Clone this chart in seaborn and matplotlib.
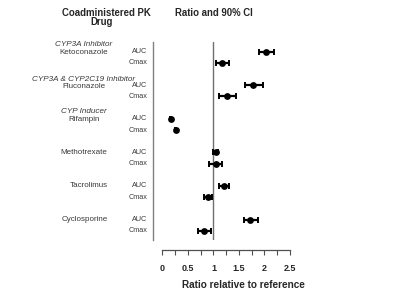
import numpy as np
import pandas as pd
import matplotlib
matplotlib.use("Agg")
import matplotlib.pyplot as plt
import matplotlib.transforms as mtransforms
from matplotlib.ticker import MultipleLocator, FixedLocator
import seaborn as sns

# ---- data ----
drugs = ['Ketoconazole', 'Fluconazole', 'Rifampin', 'Methotrexate', 'Tacrolimus', 'Cyclosporine']
categories = ['CYP3A Inhibitor', 'CYP3A & CYP2C19 Inhibitor', 'CYP Inducer', '', '', '']
params = ['AUC', 'Cmax']
auc = [2.03, 1.78, 0.16, 1.04, 1.21, 1.72]
auc_lo = [1.89, 1.62, 0.15, 1.00, 1.11, 1.60]
auc_hi = [2.18, 1.98, 0.17, 1.08, 1.31, 1.87]
cmax = [1.16, 1.27, 0.26, 1.04, 0.90, 0.82]
cmax_lo = [1.05, 1.11, 0.25, 0.92, 0.82, 0.70]
cmax_hi = [1.31, 1.45, 0.27, 1.16, 0.98, 0.96]
xticks = [0, 0.5, 1, 1.5, 2, 2.5]
xticklabels = ['0', '0.5', '1', '1.5', '2', '2.5']

rows = []
for i, d in enumerate(drugs):
    rows.append(dict(drug=d, param='AUC', ratio=auc[i], lo=auc_lo[i], hi=auc_hi[i], pos=3 * i))
    rows.append(dict(drug=d, param='Cmax', ratio=cmax[i], lo=cmax_lo[i], hi=cmax_hi[i], pos=3 * i + 1))
df = pd.DataFrame(rows)

sns.set_theme(style="white")
plt.rcParams['font.family'] = ['Liberation Sans', 'DejaVu Sans']

fig = plt.figure(figsize=(4.0, 2.95), dpi=100)
W, H = 400, 295
left_px, right_px, top_px, bot_px = 153.3, 300, 42, 240
ax = fig.add_axes([left_px / W, 1 - bot_px / H, (right_px - left_px) / W, (bot_px - top_px) / H])

ax.errorbar(df['ratio'], df['pos'],
            xerr=[df['ratio'] - df['lo'], df['hi'] - df['ratio']],
            fmt='none', ecolor='black', elinewidth=1.6, capsize=2.2, capthick=1.4, zorder=2)
sns.scatterplot(data=df, x='ratio', y='pos', ax=ax, color='black', s=24,
                edgecolor='black', linewidth=0, zorder=3, legend=False)

ax.axvline(1, color='#707070', lw=1.0, zorder=1)

ax.set_xlim(-0.18, (right_px - 162.5) / 51.0)
ax.set_ylim(16.83, -0.87)

for s in ['top', 'right']:
    ax.spines[s].set_visible(False)
ax.spines['left'].set_color('#808080')
ax.spines['left'].set_linewidth(1.0)
ax.spines['bottom'].set_position(('outward', 7.2))
ax.spines['bottom'].set_bounds(0, 2.5)
ax.spines['bottom'].set_color('#505050')
ax.spines['bottom'].set_linewidth(0.9)

ax.set_yticks([])
ax.xaxis.set_major_locator(FixedLocator(xticks))
ax.set_xticklabels(xticklabels, fontsize=6.5, fontweight='bold')
ax.xaxis.set_minor_locator(MultipleLocator(0.25))
ax.tick_params(axis='x', which='both', direction='out', length=3.8, width=0.8,
               color='#505050', bottom=True, pad=6)
ax.set_xlabel('')
ax.set_ylabel('')

# x label
fig.text(243 / W, 1 - 285 / H, 'Ratio relative to reference', ha='center', va='center',
         fontsize=7.2, fontweight='bold')

# headers
fig.text(106 / W, 1 - 13.0 / H, 'Coadministered PK', ha='center', va='center',
         fontsize=6.9, fontweight='bold')
fig.text(101.5 / W, 1 - 22.0 / H, 'Drug', ha='center', va='center',
         fontsize=6.9, fontweight='bold')
ax.text(1, 1 - 13.3 / H, 'Ratio and 90% CI',
        transform=mtransforms.blended_transform_factory(ax.transData, fig.transFigure),
        ha='center', va='center', fontsize=6.9, fontweight='bold')

# row labels
trans = mtransforms.blended_transform_factory(fig.transFigure, ax.transData)
tc = '#3a3a3a'
for _, r in df.iterrows():
    ax.text(147.7 / W, r['pos'], r['param'], transform=trans, ha='right', va='center',
            fontsize=5.2, color=tc)
for i, d in enumerate(drugs):
    y = 3 * i
    if categories[i]:
        off = 0.55 if i == 1 else 0.65
        ax.text(84 / W, y - off, categories[i], transform=trans, ha='center', va='center',
                fontsize=5.9, style='italic', color=tc)
        ax.text(84 / W, y + 0.1, d, transform=trans, ha='center', va='center',
                fontsize=5.8, color=tc)
    else:
        ax.text(107.5 / W, y, d, transform=trans, ha='right', va='center',
                fontsize=5.8, color=tc)

fig.savefig('out.png', dpi=100)
